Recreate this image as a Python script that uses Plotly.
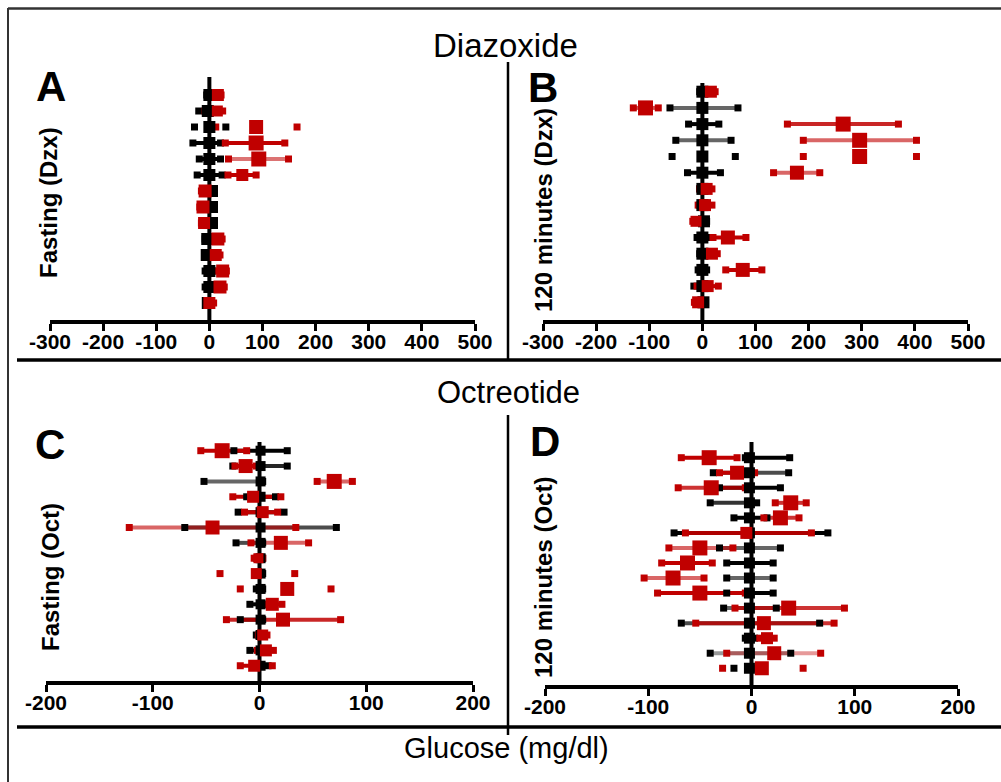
import plotly.graph_objects as go

# ---------------- data ----------------
# Panel A: Fasting (Dzx)
A_black_c = [0, -3, 0, 0, 0, 0, 5, 5, 5, -4, -5, 0, 0, -3]
A_black_lo = [-5, -20, -28, -31, -19, -23, 0, 0, 0, -8, -8, -8, -8, -6]
A_black_hi = [3, 5, 31, 21, 21, 24, 8, 8, 8, 2, 2, 6, 5, 2]
A_red_c = [16, 15, 88, 88, 93, 62, -8, -12, -10, 16, 12, 25, 20, 0]
A_red_lo = [8, -8, 12, 30, 36, 35, -15, -18, -15, 8, 5, 15, 10, -5]
A_red_hi = [22, 25, 165, 142, 149, 88, 2, -5, -5, 24, 20, 32, 28, 8]

# Panel B: 120 minutes (Dzx)
B_black_c = [0, 0, 0, 0, 0, 0, 0, 0, 3, 0, 0, 0, 0, 2]
B_black_lo = [-5, -61, -26, -50, -57, -28, -5, -5, -3, -10, -5, -8, -16, -3]
B_black_hi = [5, 67, 31, 54, 62, 34, 5, 5, 8, 10, 5, 8, 8, 6]
B_red_c = [16, -107, 265, 296, 296, 178, 8, 5, -12, 48, 18, 76, 10, -8]
B_red_lo = [10, -130, 160, 190, 190, 134, -5, -8, -18, 20, 10, 44, -10, -15]
B_red_hi = [24, -83, 369, 403, 403, 221, 18, 18, 5, 82, 28, 112, 30, 3]

# Panel C: Fasting (Oct)
C_black_c = [1] * 15
C_black_lo = [-24, -25, -52, -12, -20, -70, -22, -3, -3, -3, -9, -18, -3, -9, -5]
C_black_hi = [26, 26, 3, 15, 23, 72, 3, 3, 3, 3, 3, 3, 3, 3, 8]
C_red_c = [-35, -13, 70, -6, 3, -44, 20, -1, -3, 26, 12, 22, 3, 6, -5]
C_red_lo = [-55, -23, 54, -25, -14, -122, -8, -5, -37, -18, 5, -31, -1, -2, -18]
C_red_hi = [-12, -3, 87, 20, 17, 34, 46, 3, 33, 67, 21, 76, 7, 13, 12]

# Panel D: 120 minutes (Oct)
D_black_c = [-2] * 15
D_black_lo = [-6, -37, -31, -40, -17, -75, -31, -24, -24, -24, -27, -68, -6, -40, -17]
D_black_hi = [37, 36, 28, 5, 15, 74, 28, 21, 21, 21, 24, 66, 3, 38, 3]
D_red_c = [-41, -14, -39, 38, 28, -5, -50, -62, -76, -50, 36, 12, 15, 22, 10]
D_red_lo = [-68, -31, -71, 23, 12, -64, -80, -87, -104, -91, -16, -54, 8, -24, -28]
D_red_hi = [-14, 3, -6, 53, 46, 58, -18, -38, -46, -6, 90, 80, 22, 67, 50]

ticks_dzx = [-300, -200, -100, 0, 100, 200, 300, 400, 500]
ticks_oct = [-200, -100, 0, 100, 200]

panel_letters = ["A", "B", "C", "D"]
panel_ytitles = ["Fasting (Dzx)", "120 minutes (Dzx)", "Fasting (Oct)", "120 minutes (Oct)"]
section_titles = ["Diazoxide", "Octreotide"]
x_title = "Glucose (mg/dl)"

# ---------------- styles ----------------
RED = "#c00000"
A_red_size = [12, 11, 14, 15, 15, 12, 13, 13, 12, 13, 12, 13, 13, 12]
B_red_size = [12, 15, 15, 15, 15, 14, 12, 12, 11, 14, 12, 14, 12, 12]
C_red_size = [15, 14, 15, 12, 12, 14, 14, 10, 11, 14, 13, 14, 11, 12, 12]
D_red_size = [15, 14, 15, 15, 15, 12, 15, 15, 15, 15, 15, 14, 12, 14, 14]
A_blk_alpha = [1, 1, 0, 1, 1, 1, 1, 1, 1, 1, 1, 1, 1, 1]
A_red_alpha = [1, 1, 0, 1, 0.55, 1, 1, 1, 1, 1, 1, 1, 1, 1]
B_blk_alpha = [1, 0.6, 1, 0.6, 0, 1, 1, 1, 1, 1, 1, 1, 1, 1]
B_red_alpha = [1, 0.7, 0.85, 0.6, 0, 0.6, 1, 1, 1, 1, 1, 1, 1, 1]
C_blk_alpha = [1, 0.85, 0.6, 1, 1, 0.7, 0.7, 1, 1, 1, 1, 1, 1, 1, 1]
C_red_alpha = [1, 1, 0.6, 1, 1, 0.6, 0.6, 1, 0, 0, 1, 0.85, 1, 1, 1]
D_blk_alpha = [1, 0.7, 1, 0.8, 1, 1, 0.6, 1, 0.6, 1, 0.6, 0.7, 1, 0.4, 0]
D_red_alpha = [1, 1, 0.8, 0.8, 0.8, 0.9, 0.6, 1, 0.6, 1, 0.8, 0.8, 1, 0.4, 0]

W, H = 1001, 782


def px_x(p):
    return p / W


def px_y(p):
    return 1 - p / H


panels = [
    dict(d=(A_black_c, A_black_lo, A_black_hi, A_red_c, A_red_lo, A_red_hi, A_red_size, A_blk_alpha, A_red_alpha),
         x0=50, x1=475, r0=95, dr=16.0, top=77, bot=320, ticks=ticks_dzx, bsize=12),
    dict(d=(B_black_c, B_black_lo, B_black_hi, B_red_c, B_red_lo, B_red_hi, B_red_size, B_blk_alpha, B_red_alpha),
         x0=543, x1=968, r0=91.7, dr=16.2, top=83, bot=320, ticks=ticks_dzx, bsize=12),
    dict(d=(C_black_c, C_black_lo, C_black_hi, C_red_c, C_red_lo, C_red_hi, C_red_size, C_blk_alpha, C_red_alpha),
         x0=46, x1=473, r0=450.7, dr=15.36, top=442, bot=681, ticks=ticks_oct, bsize=10),
    dict(d=(D_black_c, D_black_lo, D_black_hi, D_red_c, D_red_lo, D_red_hi, D_red_size, D_blk_alpha, D_red_alpha),
         x0=545, x1=958, r0=457.7, dr=15.04, top=442, bot=685, ticks=ticks_oct, bsize=11),
]

fig = go.Figure()
layout_axes = {}


def seg_traces(c_lo, c_hi, alphas, rgb, xa, ya):
    groups = {}
    for i, (lo, hi, a) in enumerate(zip(c_lo, c_hi, alphas)):
        if a <= 0:
            continue
        groups.setdefault(a, ([], []))
        xs, ys = groups[a]
        xs += [lo, hi, None]
        ys += [i, i, None]
    for a, (xs, ys) in groups.items():
        fig.add_trace(go.Scatter(x=xs, y=ys, mode="lines", xaxis=xa, yaxis=ya,
                                 line=dict(color=f"rgba({rgb},{a})", width=4),
                                 hoverinfo="skip", showlegend=False))


for k, p in enumerate(panels):
    bc, blo, bhi, rc, rlo, rhi, rsize, balpha, ralpha = p["d"]
    n = len(bc)
    rows = list(range(n))
    xa = "x" if k == 0 else f"x{k+1}"
    ya = "y" if k == 0 else f"y{k+1}"
    xkey = "xaxis" if k == 0 else f"xaxis{k+1}"
    ykey = "yaxis" if k == 0 else f"yaxis{k+1}"
    ytop = (p["top"] - p["r0"]) / p["dr"]
    ybot = (p["bot"] - p["r0"]) / p["dr"]

    seg_traces(blo, bhi, balpha, "0,0,0", xa, ya)
    seg_traces(rlo, rhi, ralpha, "192,0,0", xa, ya)
    fig.add_trace(go.Scatter(x=blo + bhi, y=rows + rows, mode="markers", xaxis=xa, yaxis=ya,
                             marker=dict(symbol="square", size=7, color="black", opacity=1, line=dict(width=0)),
                             hoverinfo="skip", showlegend=False))
    fig.add_trace(go.Scatter(x=rlo + rhi, y=rows + rows, mode="markers", xaxis=xa, yaxis=ya,
                             marker=dict(symbol="square", size=7, color=RED, opacity=1, line=dict(width=0)),
                             hoverinfo="skip", showlegend=False))
    fig.add_trace(go.Scatter(x=[0, 0], y=[ytop, ybot], mode="lines", xaxis=xa, yaxis=ya,
                             line=dict(color="black", width=4), hoverinfo="skip", showlegend=False))
    fig.add_trace(go.Scatter(x=bc, y=rows, mode="markers", xaxis=xa, yaxis=ya,
                             marker=dict(symbol="square", size=p["bsize"], color="black", opacity=1,
                                         line=dict(width=0)),
                             hoverinfo="skip", showlegend=False))
    fig.add_trace(go.Scatter(x=rc, y=rows, mode="markers", xaxis=xa, yaxis=ya,
                             marker=dict(symbol="square", size=rsize, color=RED, opacity=1, line=dict(width=0)),
                             hoverinfo="skip", showlegend=False))

    t = p["ticks"]
    layout_axes[xkey] = dict(
        domain=[px_x(p["x0"]), px_x(p["x1"])], range=[t[0], t[-1]], anchor=ya,
        showgrid=False, zeroline=False, showline=True, linecolor="black", linewidth=4,
        ticks="outside", ticklen=7, tickwidth=3, tickcolor="black", automargin=False,
        ticklabelstandoff=-7,
        tickvals=t, ticktext=[str(v) for v in t],
        tickfont=dict(family="Liberation Sans", size=21, color="black", weight="bold"),
    )
    layout_axes[ykey] = dict(
        domain=[px_y(p["bot"]), px_y(p["top"])], range=[ybot, ytop], anchor=xa, automargin=False,
        showgrid=False, zeroline=False, showline=False, showticklabels=False, ticks="",
    )

fig.update_layout(**layout_axes)

ann = []
ann.append(dict(text=section_titles[0], x=px_x(505), y=px_y(45), font=dict(size=33)))
ann.append(dict(text=section_titles[1], x=px_x(508), y=px_y(392), font=dict(size=31)))
ann.append(dict(text=x_title, x=px_x(506), y=px_y(748), font=dict(size=29)))
for L, (cx, cy) in zip(panel_letters, [(51, 87), (543, 88), (50, 444), (545, 442)]):
    ann.append(dict(text=L, x=px_x(cx), y=px_y(cy), font=dict(size=42, weight="bold")))
for T, (cx, cy) in zip(panel_ytitles, [(48, 203), (543, 210), (50, 577), (543, 578)]):
    ann.append(dict(text=T, x=px_x(cx), y=px_y(cy), textangle=-90, font=dict(size=24, weight="bold")))
for a in ann:
    a.update(xref="paper", yref="paper", showarrow=False, xanchor="center", yanchor="middle")
    f = a["font"]
    f.setdefault("family", "Liberation Sans")
    f.setdefault("color", "black")

shapes = [
    dict(type="line", x0=px_x(8), x1=1, y0=px_y(8.5), y1=px_y(8.5), line=dict(color="#333", width=2.5)),
    dict(type="line", x0=px_x(8), x1=px_x(8), y0=px_y(8), y1=0, line=dict(color="#333", width=2)),
    dict(type="line", x0=px_x(17), x1=1, y0=px_y(360), y1=px_y(360), line=dict(color="black", width=3.5)),
    dict(type="line", x0=px_x(17), x1=1, y0=px_y(727), y1=px_y(727), line=dict(color="black", width=3.5)),
    dict(type="line", x0=px_x(508), x1=px_x(508), y0=px_y(62), y1=px_y(360), line=dict(color="black", width=2.5)),
    dict(type="line", x0=px_x(508), x1=px_x(508), y0=px_y(415), y1=px_y(735), line=dict(color="black", width=2.5)),
]
for s in shapes:
    s.update(xref="paper", yref="paper")

fig.update_layout(
    width=W, height=H, margin=dict(l=0, r=0, t=0, b=0, pad=0, autoexpand=False),
    paper_bgcolor="white", plot_bgcolor="rgba(0,0,0,0)",
    annotations=ann, shapes=shapes, showlegend=False,
)

fig.write_html("out.html", include_plotlyjs=True, full_html=True,
               default_width="1001px", default_height="782px",
               config={"displayModeBar": False},
               post_script="document.body.style.margin='0px';document.body.style.overflow='hidden';")
